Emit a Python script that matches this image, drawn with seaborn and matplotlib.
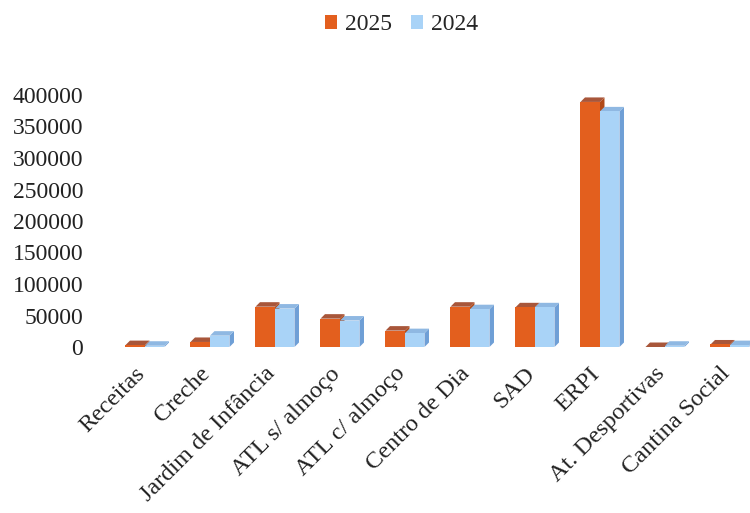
import matplotlib
matplotlib.use("Agg")
import matplotlib.pyplot as plt
import seaborn as sns
import pandas as pd
from matplotlib.patches import Polygon, Patch
from matplotlib.transforms import ScaledTranslation

categories = ["Receitas", "Creche", "Jardim de Infância", "ATL s/ almoço", "ATL c/ almoço",
              "Centro de Dia", "SAD", "ERPI", "At. Desportivas", "Cantina Social"]
values_2025 = [3000, 8000, 64000, 45000, 26000, 64000, 63000, 389000, 0, 4000]
values_2024 = [2000, 18000, 61000, 42000, 22000, 60000, 63000, 374000, 2000, 3000]
years = ["2025", "2024"]
yticks = [0, 50000, 100000, 150000, 200000, 250000, 300000, 350000, 400000]

front = {"2025": "#E35F1E", "2024": "#A9D3F7"}
side = {"2025": "#B24A18", "2024": "#6F9FD6"}
top = {"2025": "#A8563A", "2024": "#8FB8E2"}

df = pd.DataFrame({
    "cat": categories * 2,
    "year": ["2025"] * len(categories) + ["2024"] * len(categories),
    "val": values_2025 + values_2024,
})

sns.set_style("white")
plt.rcParams["font.family"] = ["Liberation Serif", "DejaVu Serif"]

fig = plt.figure(figsize=(7.5, 5.13), dpi=100)
ax = fig.add_axes([90 / 750, (513 - 347) / 513, 660 / 750, (347 - 95) / 513])

sns.barplot(data=df, x="cat", y="val", hue="year", hue_order=years,
            palette=front, width=0.6, gap=0, ax=ax, legend=False,
            linewidth=0, saturation=1)

ax.set_xlim(-0.846, -0.846 + 660 / 65)
ax.set_ylim(0, 400000)

# pseudo 3D faces derived from bar geometry
px_x = 65.0  # px per category unit
px_y = 252.0 / 400000
dpx = 4.5
dx = dpx / px_x
dy = dpx / px_y
for ci, cont in enumerate(ax.containers):
    yr = years[ci]
    for p in cont.patches:
        x0, w, h = p.get_x(), p.get_width(), p.get_height()
        z = 2 + ci
        p.set_zorder(z + 0.2)
        sp = Polygon([(x0 + w, 0), (x0 + w + dx, dy), (x0 + w + dx, h + dy), (x0 + w, h)],
                     closed=True, facecolor=side[yr], edgecolor="none", zorder=z + 0.1)
        tp = Polygon([(x0, h), (x0 + dx, h + dy), (x0 + w + dx, h + dy), (x0 + w, h)],
                     closed=True, facecolor=top[yr], edgecolor="none", zorder=z + 0.1)
        ax.add_patch(sp)
        ax.add_patch(tp)

for s in ax.spines.values():
    s.set_visible(False)
ax.set_xlabel("")
ax.set_ylabel("")
ax.set_yticks(yticks)
ax.set_yticklabels([str(v) for v in yticks])
ax.tick_params(axis="y", length=0, pad=5, labelsize=17, colors="#222222")
ax.tick_params(axis="x", length=0, pad=17, labelsize=17.5, colors="#222222")
ax.set_xticks(range(len(categories)))
ax.set_xticklabels(categories, rotation=45, ha="right", va="center", rotation_mode="anchor")
off = ScaledTranslation(-3 / 100, 0, fig.dpi_scale_trans)
for lbl in ax.get_xticklabels():
    lbl.set_transform(lbl.get_transform() + off)

handles = [Patch(facecolor=front[y], edgecolor="none", label=y) for y in years]
fig.legend(handles=handles, loc="center", bbox_to_anchor=(402 / 750, 1 - 25 / 513),
           ncol=2, frameon=False, fontsize=17, handlelength=0.5, handleheight=0.5,
           handletextpad=0.35, columnspacing=0.8)

fig.savefig("out.png", dpi=100)
